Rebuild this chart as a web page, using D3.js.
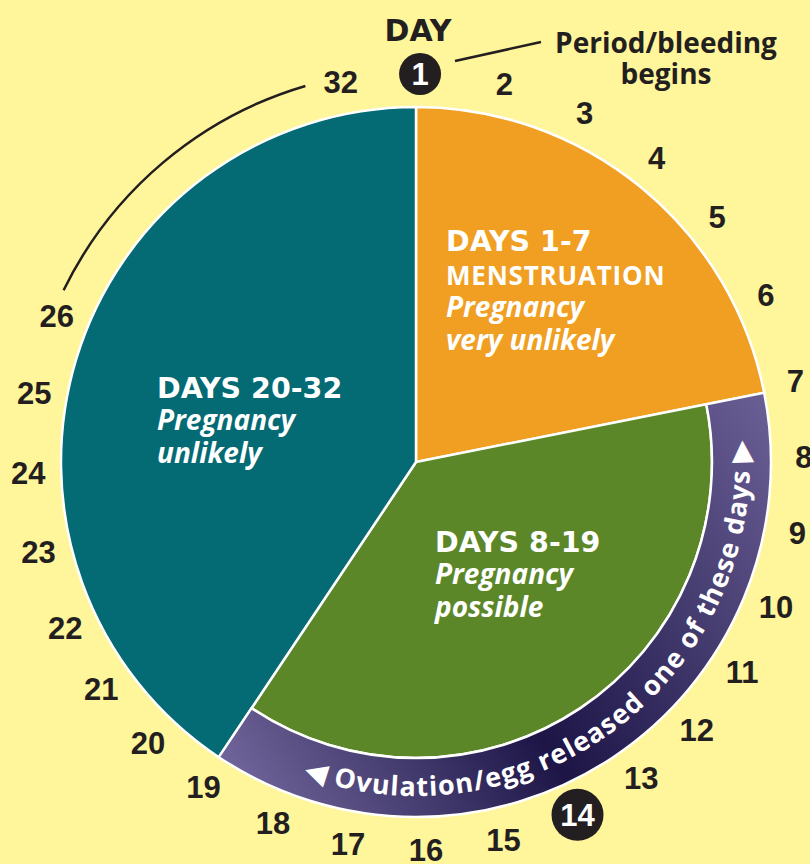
<!DOCTYPE html>
<html>
<head>
<meta charset="utf-8">
<script src="https://cdn.jsdelivr.net/npm/d3@7/dist/d3.min.js"></script>
<style>
  body { margin: 0; background: #fff59b; }
  svg { display: block; }
</style>
</head>
<body>
<svg id="chart" width="810" height="864"></svg>
<script>
// cycle phases: title, number of days, colour
const phaseTitles = ["DAYS 1-7", "DAYS 8-19", "DAYS 20-32"]
const phaseDays = [7, 12, 13]
const phaseColors = ["#f09f22", "#5b8729", "#046a74"]
const phaseSubtitles = ["MENSTRUATION", "", ""]
const phaseChance = [["Pregnancy", "very unlikely"], ["Pregnancy", "possible"], ["Pregnancy", "unlikely"]]

// day numbers written around the clock (27-31 are replaced by an arc)
const dayLabels = [1, 2, 3, 4, 5, 6, 7, 8, 9, 10, 11, 12, 13, 14, 15, 16, 17, 18, 19, 20, 21, 22, 23, 24, 25, 26, 32]
const circledDays = [1, 14]
const ringText = "Ovulation/egg released one of these days"
const startNote = ["Period/bleeding", "begins"]

const cx = 416, cy = 462
const R = 355, rInner = 296

const svg = d3.select("#chart")
const g = svg.append("g").attr("transform", `translate(${cx},${cy})`)

// day -> angle (degrees clockwise from top), the printed numbers are not evenly spaced
const dayAngle = d3.scaleLinear()
    .domain([1, 5, 7, 10, 14, 19, 22, 26, 32])
    .range([0.6, 50.9, 77.9, 111.9, 155.4, 213.2, 244.7, 292.2, 348.8])
const rad = d => dayAngle(d) * Math.PI / 180
const polar = (a, r) => [r * Math.sin(a), -r * Math.cos(a)]

const pie = d3.pie().sort(null).value(d => d)
const arcsData = pie(phaseDays)

// gradient for the ovulation ring (page coordinates, shifted into the group)
const defs = svg.append("defs")
const grad = defs.append("linearGradient")
    .attr("id", "ringGrad")
    .attr("gradientUnits", "userSpaceOnUse")
    .attr("gradientTransform", `translate(${-cx},${-cy})`)
    .attr("x1", 225).attr("y1", 757)
    .attr("x2", 765).attr("y2", 395)
grad.append("stop").attr("offset", 0).attr("stop-color", "#6f6499")
grad.append("stop").attr("offset", 0.42).attr("stop-color", "#1c1546")
grad.append("stop").attr("offset", 1).attr("stop-color", "#6a5f95")

// wedges
const wedge = d3.arc().innerRadius(0)
g.selectAll("path.phase")
    .data(arcsData)
    .enter().append("path")
    .attr("class", "phase")
    .attr("d", (d, i) => wedge.outerRadius(i === 1 ? rInner : R)(d))
    .attr("fill", (d, i) => phaseColors[i])
    .attr("stroke", "#fff")
    .attr("stroke-width", 2.5)
    .attr("stroke-linejoin", "round")

// ring outside the fertile wedge
const ring = arcsData[1]
g.append("path")
    .attr("d", d3.arc().innerRadius(rInner).outerRadius(R)(ring))
    .attr("fill", "url(#ringGrad)")
    .attr("stroke", "#fff")
    .attr("stroke-width", 2.5)

// text running along the ring, counter-clockwise so that it reads upright
const rText = 334
const [sx, sy] = polar(ring.endAngle, rText)
const [ex, ey] = polar(ring.startAngle, rText)
defs.append("path")
    .attr("id", "ringPath")
    .attr("d", `M${sx},${sy} A${rText},${rText} 0 0 0 ${ex},${ey}`)
g.append("text")
    .attr("fill", "#fff")
    .style("font-family", "'Open Sans', sans-serif")
    .style("font-weight", 700)
    .style("font-size", "27px")
    .append("textPath")
    .attr("href", "#ringPath")
    .attr("startOffset", "52.4%")
    .attr("text-anchor", "middle")
    .attr("textLength", 660)
    .attr("lengthAdjust", "spacing")
    .text("\u25C0 " + ringText + " \u25B6")

// phase texts
const textPos = [[446, 251], [435, 552], [157, 398]]
phaseTitles.forEach((t, i) => {
    const [x, y] = textPos[i]
    const txt = g.append("text")
        .attr("x", x - cx).attr("y", y - cy)
        .attr("fill", "#fff")
    txt.append("tspan")
        .attr("x", x - cx)
        .style("font-family", "'DejaVu Sans', sans-serif")
        .style("font-weight", 700)
        .style("font-size", "28.5px")
        .text(t)
    if (phaseSubtitles[i]) {
        txt.append("tspan")
            .attr("x", x - cx).attr("dy", 34)
            .style("font-family", "'Open Sans', sans-serif")
            .style("font-weight", 700)
            .style("font-size", "26px")
            .style("letter-spacing", "0.8px")
            .text(phaseSubtitles[i])
    }
    phaseChance[i].forEach((line, j) => {
        txt.append("tspan")
            .attr("x", x - cx).attr("dy", j === 0 ? 32 : 33)
            .style("font-family", "'Open Sans', sans-serif")
            .style("font-weight", 700)
            .style("font-style", "italic")
            .style("font-size", "28px")
            .text(line)
    })
})

// day numbers
const rLabel = 388
const days = g.selectAll("g.day")
    .data(dayLabels)
    .enter().append("g")
    .attr("class", "day")
    .attr("transform", d => `translate(${polar(rad(d), rLabel)})`)
days.filter(d => circledDays.includes(d))
    .append("circle")
    .attr("r", d => d < 10 ? 21 : 26)
    .attr("fill", "#231f20")
days.append("text")
    .attr("text-anchor", "middle")
    .attr("dy", "0.36em")
    .attr("fill", d => circledDays.includes(d) ? "#fff" : "#231f20")
    .style("font-family", "'Liberation Sans', Arial, sans-serif")
    .style("font-weight", 700)
    .style("font-size", "31px")
    .text(d => d)

// arc standing in for days 27-31
g.append("path")
    .attr("d", d3.arc().innerRadius(392).outerRadius(392)
        .startAngle(rad(26.4)).endAngle(rad(31.45))())
    .attr("fill", "none")
    .attr("stroke", "#231f20")
    .attr("stroke-width", 2.5)

// title and note
svg.append("text")
    .attr("x", 418).attr("y", 41)
    .attr("text-anchor", "middle")
    .attr("fill", "#231f20")
    .style("font-family", "'DejaVu Sans', sans-serif")
    .style("font-weight", 700)
    .style("font-size", "30px")
    .text("DAY")

svg.append("line")
    .attr("x1", 455).attr("y1", 61)
    .attr("x2", 541).attr("y2", 42)
    .attr("stroke", "#231f20")
    .attr("stroke-width", 2.5)

svg.append("text")
    .attr("text-anchor", "middle")
    .attr("fill", "#231f20")
    .style("font-family", "'Open Sans', sans-serif")
    .style("font-weight", 700)
    .style("font-size", "28px")
    .selectAll("tspan")
    .data(startNote)
    .enter().append("tspan")
    .attr("x", 666)
    .attr("y", (d, i) => i === 0 ? 53 : 84)
    .text(d => d)
</script>
</body>
</html>
